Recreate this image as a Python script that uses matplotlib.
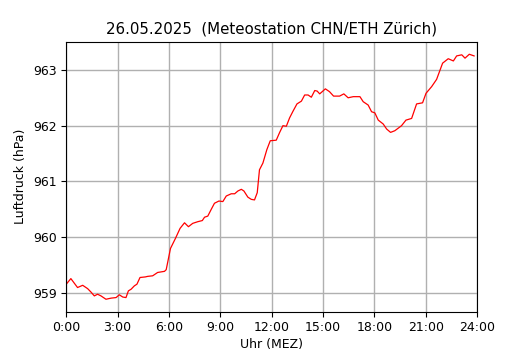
import matplotlib
matplotlib.use('Agg')
import matplotlib.pyplot as plt

# Stunden seit Mitternacht und Luftdruck in hPa
stunden = [0.0, 0.27, 0.66, 0.96, 1.25, 1.44, 1.64, 1.83, 2.03, 2.32, 2.62, 2.91,
           3.10, 3.30, 3.49, 3.63, 3.79, 3.98, 4.13, 4.31, 4.62, 4.76, 5.05, 5.34,
           5.74, 5.84, 6.09, 6.38, 6.65, 6.91, 7.14, 7.39, 7.69, 7.95, 8.08, 8.27,
           8.47, 8.66, 8.92, 9.15, 9.35, 9.64, 9.84, 10.03, 10.23, 10.38, 10.61,
           10.81, 11.0, 11.16, 11.29, 11.49, 11.72, 11.92, 12.27, 12.47, 12.66,
           12.86, 13.05, 13.25, 13.48, 13.74, 13.93, 14.13, 14.32, 14.52, 14.66,
           14.81, 15.14, 15.38, 15.62, 15.97, 16.22, 16.47, 16.77, 17.16, 17.35,
           17.64, 17.84, 18.03, 18.23, 18.52, 18.72, 18.95, 19.2, 19.59, 19.85,
           20.18, 20.47, 20.82, 21.02, 21.35, 21.64, 21.99, 22.32, 22.62, 22.81,
           23.11, 23.30, 23.55, 23.83]
druck = [959.16, 959.26, 959.10, 959.14, 959.08, 959.02, 958.95, 958.98, 958.95,
         958.89, 958.91, 958.92, 958.97, 958.93, 958.92, 959.04, 959.07, 959.13,
         959.16, 959.28, 959.29, 959.30, 959.31, 959.37, 959.39, 959.42, 959.80,
         959.98, 960.16, 960.26, 960.19, 960.25, 960.28, 960.30, 960.36, 960.38,
         960.50, 960.61, 960.65, 960.64, 960.74, 960.78, 960.78, 960.83, 960.86,
         960.83, 960.72, 960.68, 960.67, 960.80, 961.21, 961.33, 961.57, 961.73,
         961.74, 961.88, 962.00, 961.99, 962.14, 962.26, 962.39, 962.44, 962.55,
         962.55, 962.51, 962.63, 962.62, 962.57, 962.66, 962.61, 962.53, 962.53,
         962.57, 962.50, 962.52, 962.52, 962.43, 962.37, 962.25, 962.23, 962.10,
         962.03, 961.94, 961.88, 961.91, 962.00, 962.10, 962.13, 962.39, 962.41,
         962.58, 962.70, 962.83, 963.12, 963.20, 963.16, 963.25, 963.27, 963.21,
         963.28, 963.25]

tick_pos = [0, 3, 6, 9, 12, 15, 18, 21, 24]
tick_lab = ['0:00', '3:00', '6:00', '9:00', '12:00', '15:00', '18:00', '21:00', '24:00']

fig, ax = plt.subplots(figsize=(5.3, 3.5), dpi=100)
ax.plot(stunden, druck, color='red', linewidth=0.9)
ax.set_xlim(0, 24)
ax.set_xticks(tick_pos)
ax.set_xticklabels(tick_lab, fontsize=9)
ax.tick_params(axis='y', labelsize=9)
ax.grid(True, color='#b0b0b0', linewidth=1)
ax.set_xlabel('Uhr (MEZ)', fontsize=9, labelpad=2.5)
ax.set_ylabel('Luftdruck (hPa)', fontsize=9)
ax.set_title('26.05.2025  (Meteostation CHN/ETH Zürich)', fontsize=10.8)
fig.savefig('out.png')
